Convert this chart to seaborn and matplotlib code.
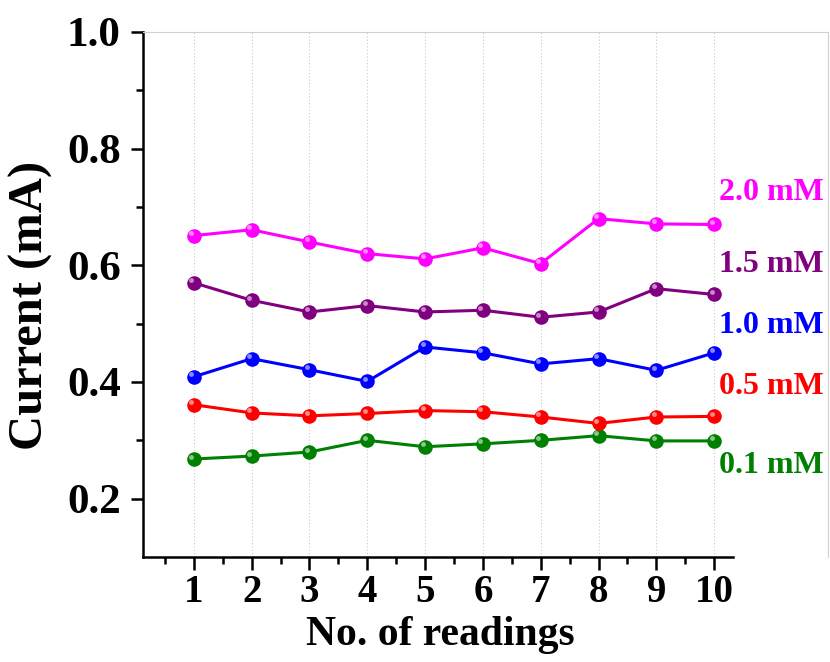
import matplotlib
matplotlib.use("Agg")
import matplotlib.pyplot as plt
import matplotlib.transforms as mtransforms
from matplotlib.ticker import FixedLocator
import numpy as np
import pandas as pd
import seaborn as sns

# Readings and measured currents (mA) for each concentration
readings = [1, 2, 3, 4, 5, 6, 7, 8, 9, 10]
conc_labels = ["0.1 mM", "0.5 mM", "1.0 mM", "1.5 mM", "2.0 mM"]
current_01 = [0.268, 0.273, 0.280, 0.300, 0.289, 0.294, 0.300, 0.308, 0.299, 0.299]
current_05 = [0.361, 0.347, 0.342, 0.346, 0.351, 0.349, 0.340, 0.329, 0.340, 0.341]
current_10 = [0.409, 0.440, 0.421, 0.401, 0.460, 0.450, 0.431, 0.440, 0.420, 0.450]
current_15 = [0.570, 0.540, 0.520, 0.531, 0.520, 0.523, 0.511, 0.520, 0.560, 0.550]
current_20 = [0.651, 0.661, 0.640, 0.620, 0.611, 0.630, 0.603, 0.680, 0.671, 0.670]
yticks = [0.2, 0.4, 0.6, 0.8, 1.0]

colors = ["#008000", "#FF0000", "#0000FF", "#800080", "#FF00FF"]
label_y = [0.257, 0.392, 0.496, 0.601, 0.725]

series = [current_01, current_05, current_10, current_15, current_20]
df = pd.concat(
    [pd.DataFrame({"reading": readings, "current": vals, "conc": lab})
     for vals, lab in zip(series, conc_labels)],
    ignore_index=True,
)

sns.set_style("ticks")
plt.rcParams["font.family"] = ["Liberation Serif", "DejaVu Serif"]
plt.rcParams["font.weight"] = "bold"
plt.rcParams["text.color"] = "black"
plt.rcParams["axes.labelcolor"] = "black"
plt.rcParams["xtick.color"] = "black"
plt.rcParams["ytick.color"] = "black"
plt.rcParams["axes.edgecolor"] = "black"

fig = plt.figure(figsize=(8.3, 6.62), dpi=100)
ax = fig.add_axes([0.1723, 0.1586, 0.8253, 0.7931])

# vertical dotted guides at each reading
for r in readings:
    ax.axvline(r, color="#c8c8c8", lw=0.8, ls=(0, (1, 2)), zorder=0)

sns.lineplot(
    data=df, x="reading", y="current", hue="conc", palette=colors,
    hue_order=conc_labels, marker="o", markersize=10.5, markeredgewidth=0,
    linewidth=2.2, legend=False, ax=ax, zorder=3,
)

# glossy highlight on each marker
hl = mtransforms.offset_copy(ax.transData, fig=fig, x=-1.8, y=1.8, units="points")
for vals in series:
    ax.plot(readings, vals, ls="none", marker="o", markersize=3.5,
            markerfacecolor="white", markeredgewidth=0, alpha=0.55,
            transform=hl, zorder=4)

for lab, col, yy in zip(conc_labels, colors, label_y):
    ax.text(10.08, yy, lab, color=col, fontsize=23, fontweight="bold",
            ha="left", va="center")

ax.set_xlim(0.12, 11.97)
ax.set_ylim(0.1, 1.0)
ax.set_xticks(readings)
ax.set_xticklabels([str(r) for r in readings])
ax.xaxis.set_minor_locator(FixedLocator([r - 0.5 for r in readings]))
ax.set_yticks(yticks)
ax.set_yticklabels([f"{v:.1f}" for v in yticks])
ax.yaxis.set_minor_locator(FixedLocator([0.3, 0.5, 0.7, 0.9]))

ax.tick_params(axis="both", which="major", direction="out", length=9,
               width=1.8)
ax.tick_params(axis="both", which="minor", direction="out", length=5,
               width=1.8)
ax.tick_params(axis="x", which="major", labelsize=28, pad=3)
ax.tick_params(axis="y", which="major", labelsize=31, pad=7)
for lbl in ax.get_xticklabels() + ax.get_yticklabels():
    lbl.set_fontweight("bold")

ax.spines["left"].set_linewidth(1.8)
ax.spines["bottom"].set_linewidth(1.8)
ax.spines["bottom"].set_bounds(0.12, 10.33)
for s in ("top", "right"):
    ax.spines[s].set_visible(True)
    ax.spines[s].set_color("#d0d0d0")
    ax.spines[s].set_linewidth(0.8)

ax.set_xlabel("No. of readings", fontsize=30, fontweight="bold")
ax.set_ylabel("Current (mA)", fontsize=35, fontweight="bold")
ax.xaxis.set_label_coords(0.4336, -0.112)
ax.yaxis.set_label_coords(-0.131, 0.48)

fig.savefig("out.png", dpi=100)
